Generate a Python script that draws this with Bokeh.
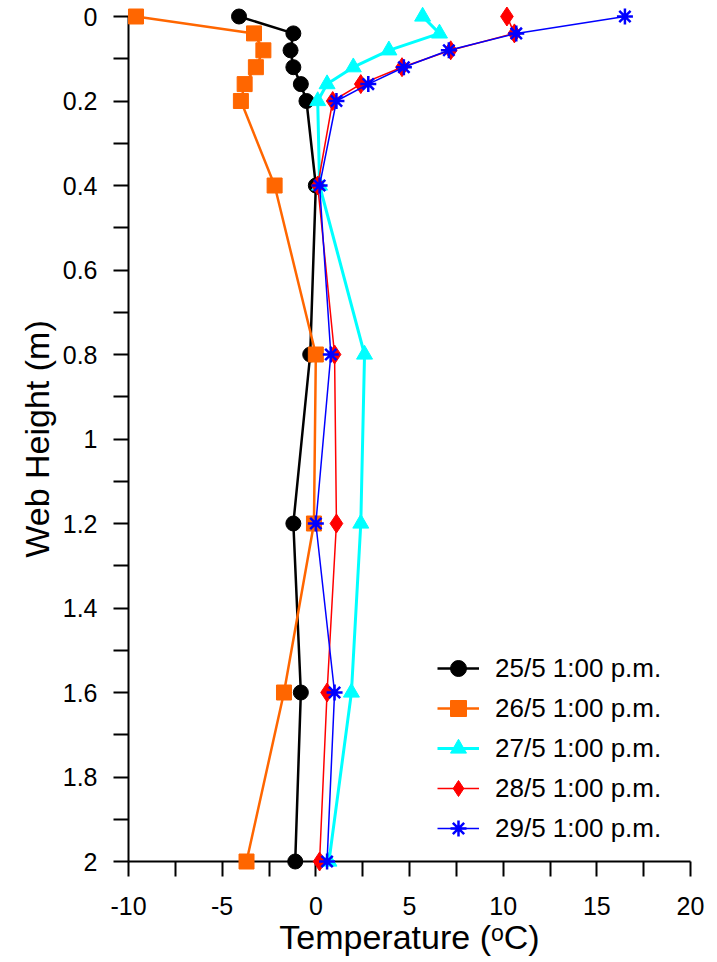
from bokeh.plotting import figure
from bokeh.models import Range1d, FixedTicker, Legend, LegendItem
from bokeh.embed import file_html
from bokeh.resources import INLINE

# ---- data ----
heights = [0, 0.04, 0.08, 0.12, 0.16, 0.2, 0.4, 0.8, 1.2, 1.6, 2.0]
t_25 = [-4.1, -1.2, -1.35, -1.2, -0.8, -0.5, 0.0, -0.3, -1.2, -0.8, -1.1]
t_26 = [-9.6, -3.3, -2.8, -3.2, -3.8, -4.0, -2.2, 0.0, -0.1, -1.7, -3.7]
t_27 = [5.7, 6.6, 3.9, 2.0, 0.6, 0.1, 0.2, 2.6, 2.4, 1.9, 0.7]
t_28 = [10.2, 10.6, 7.2, 4.6, 2.4, 0.9, 0.1, 1.0, 1.1, 0.6, 0.2]
t_29 = [16.5, 10.7, 7.1, 4.7, 2.8, 1.1, 0.2, 0.8, 0.0, 1.0, 0.6]
series_labels = ["25/5 1:00 p.m.", "26/5 1:00 p.m.", "27/5 1:00 p.m.",
                 "28/5 1:00 p.m.", "29/5 1:00 p.m."]

x_ticks = [-10, -5, 0, 5, 10, 15, 20]
x_tick_labels = ["-10", "-5", "0", "5", "10", "15", "20"]
x_minor = [-7.5, -2.5, 2.5, 7.5, 12.5, 17.5]
y_ticks = [0, 0.2, 0.4, 0.6, 0.8, 1.0, 1.2, 1.4, 1.6, 1.8, 2.0]
y_tick_labels = ["0", "0.2", "0.4", "0.6", "0.8", "1", "1.2", "1.4", "1.6", "1.8", "2"]
y_minor = [0.1, 0.3, 0.5, 0.7, 0.9, 1.1, 1.3, 1.5, 1.7, 1.9]

FONT = "Liberation Sans"

p = figure(frame_width=562, frame_height=845,
           min_border_left=128, min_border_top=16, min_border_right=18, min_border_bottom=10,
           x_range=Range1d(-10, 20), y_range=Range1d(2, 0),
           output_backend="svg", toolbar_location=None)
p.xgrid.visible = False
p.ygrid.visible = False
p.outline_line_color = None
p.background_fill_color = "white"
p.border_fill_color = "white"

xa = p.xaxis[0]
ya = p.yaxis[0]
xa.ticker = FixedTicker(ticks=x_ticks, minor_ticks=x_minor)
ya.ticker = FixedTicker(ticks=y_ticks, minor_ticks=y_minor)
xa.major_label_overrides = {t: l for t, l in zip(x_ticks, x_tick_labels)}
ya.major_label_overrides = {t: l for t, l in zip(y_ticks, y_tick_labels)}
xa.axis_label = "Temperature (\u1d52C)"
ya.axis_label = "Web Height (m)"

for ax in (xa, ya):
    ax.axis_line_width = 2
    ax.axis_line_color = "black"
    ax.major_tick_line_width = 2
    ax.minor_tick_line_width = 2
    ax.major_tick_out = 15
    ax.major_tick_in = 0
    ax.minor_tick_out = 15
    ax.minor_tick_in = 0
    ax.major_label_text_font = FONT
    ax.major_label_text_font_size = "25px"
    ax.major_label_text_color = "black"
    ax.axis_label_text_font = FONT
    ax.axis_label_text_font_size = "34px"
    ax.axis_label_text_font_style = "normal"
    ax.axis_label_text_color = "black"

xa.major_label_standoff = 20
xa.axis_label_standoff = 0
ya.major_label_standoff = 16
ya.axis_label_standoff = 4

styles = [
    dict(data=t_25, color="black", lw=2.5, marker="circle", size=15),
    dict(data=t_26, color="#FF6600", lw=2.5, marker="square", size=15),
    dict(data=t_27, color="#00FFFF", lw=3, marker="triangle", size=16),
    dict(data=t_28, color="#FF0000", lw=1.5, marker="diamond", size=19),
    dict(data=t_29, color="#0000FF", lw=1.5, marker="asterisk", size=16),
]

items = []
for st, lab in zip(styles, series_labels):
    l = p.line(st["data"], heights, line_color=st["color"], line_width=st["lw"])
    if st["marker"] == "asterisk":
        s = p.scatter(st["data"], heights, marker="asterisk", size=st["size"],
                      line_color=st["color"], line_width=2.5)
    else:
        s = p.scatter(st["data"], heights, marker=st["marker"], size=st["size"],
                      fill_color=st["color"], line_color=st["color"], line_width=1)
    l.level = "overlay"
    s.level = "overlay"
    items.append(LegendItem(label=lab, renderers=[l, s]))

leg = Legend(items=items, location=(309, 13), glyph_width=42, glyph_height=40,
             label_height=40, spacing=0, padding=0, margin=0, label_standoff=16,
             border_line_color=None, background_fill_alpha=0,
             label_text_font=FONT, label_text_font_size="26px",
             label_text_color="black")
p.add_layout(leg)

open("out.html", "w").write(file_html(p, INLINE))
